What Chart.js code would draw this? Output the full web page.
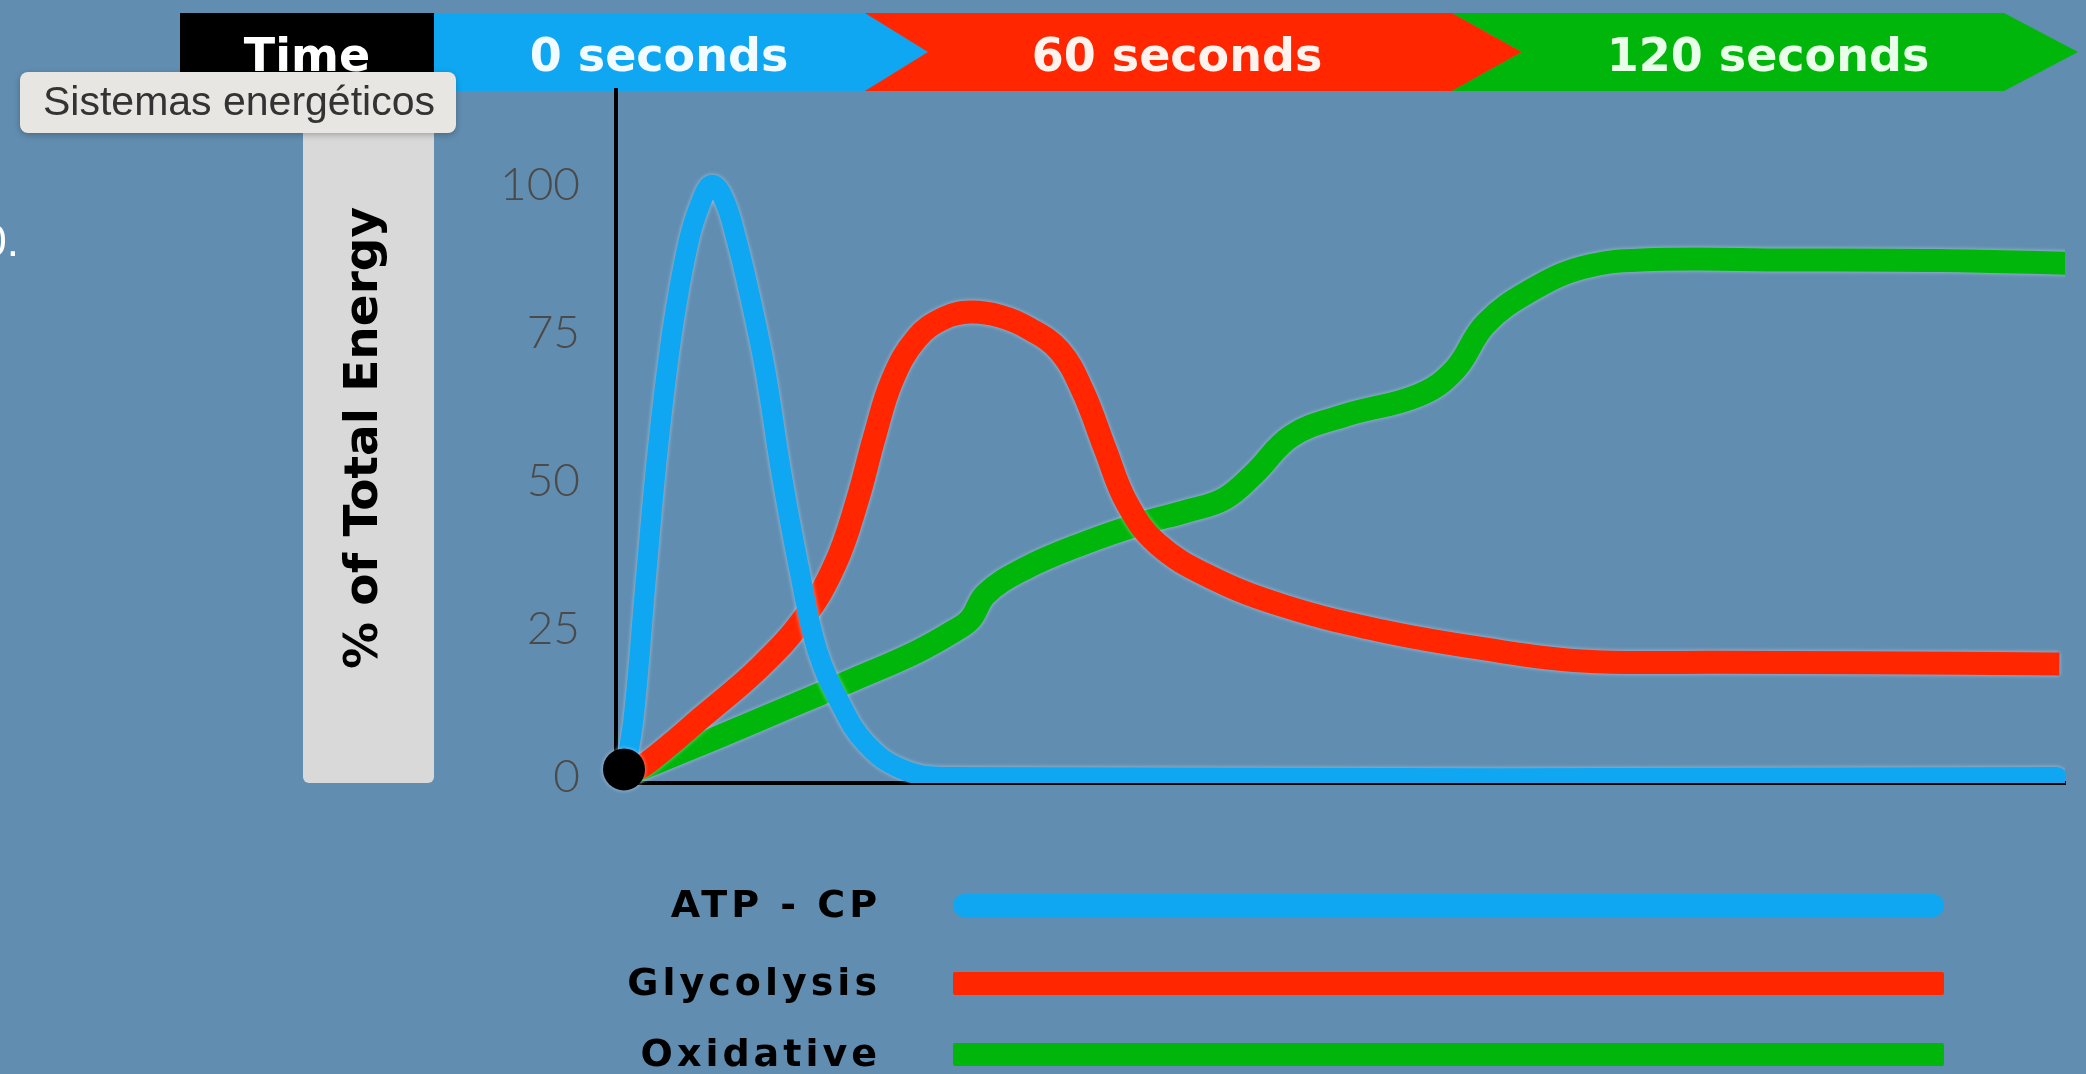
<!DOCTYPE html>
<html>
<head>
<meta charset="utf-8">
<script src="https://cdn.jsdelivr.net/npm/chart.js@4.4.1/dist/chart.umd.min.js"></script>
<style>
  html, body { margin: 0; padding: 0; background: #618db0; overflow: hidden; }
  canvas { display: block; }
</style>
</head>
<body>
<canvas id="energy-chart" width="2086" height="1074"></canvas>
<script>
// values (time in s, % of total energy)
const atpTime   = [0, 1.2, 2.7, 4.2, 6, 8, 9.6, 11, 12.5, 14, 15.6, 17.6, 19.7, 21.9, 24.1, 27, 30.2, 34.6, 40, 179];
const atpValues = [0, 10, 33, 55, 75, 90, 97, 100, 97.5, 91, 82, 69, 51, 35, 21.6, 12.5, 5.7, 1.4, 0, 0];

const glyTime   = [0, 3.2, 9.9, 17, 22.5, 26.4, 29.1, 31.3, 33.5, 36.5, 40, 43.3, 47, 50.5, 54.4, 57.3, 60.1, 62.8, 66.6, 73.2, 82.4, 94.6, 106.7, 119.7, 136.5, 155, 179.3];
const glyValues = [0, 2.7, 10.3, 18.6, 26.9, 36, 46.5, 57.5, 67, 74, 77.5, 78.5, 77.8, 75.8, 72, 65.2, 55.4, 46.3, 39.4, 33.8, 28.9, 24.7, 21.8, 19.6, 19.4, 19.3, 19.1];

const oxiTime   = [0, 3.2, 11.8, 20.4, 29.1, 36.5, 41.4, 43.3, 45.2, 49.9, 57.3, 64.8, 70.3, 75, 78.7, 83.4, 89.9, 99.3, 103.8, 107.6, 113.2, 119.7, 127.1, 145.8, 164.4, 182];
const oxiValues = [0, 2, 6.8, 11.7, 16.7, 21.1, 24.8, 26.7, 30.9, 35.1, 39.4, 42.9, 44.9, 47, 51.2, 57.6, 61, 64.5, 68.8, 76.5, 82.1, 86, 87.3, 87.3, 87.2, 86.7];

const seriesNames = ['ATP - CP', 'Glycolysis', 'Oxidative'];
const yTicks = [0, 25, 50, 75, 100];
const timeLabels = ['0 seconds', '60 seconds', '120 seconds'];

const BLUE = '#0fa7f2', RED = '#ff2600', GREEN = '#00b60a';

function pts(xs, ys) {
    return xs.map((x, i) => ({x: x, y: ys[i]}));
}

// header ribbon, axis title box, tooltip-like label
const decorations = {
    id: 'decorations',
    beforeDraw(chart) {
        const c = chart.ctx;
        c.save();
        // header
        c.fillStyle = '#000';
        c.fillRect(180, 13, 256, 78);
        const shape = (col, p) => {
            c.fillStyle = col;
            c.beginPath();
            c.moveTo(p[0][0], p[0][1]);
            for (let i = 1; i < p.length; i++) c.lineTo(p[i][0], p[i][1]);
            c.closePath();
            c.fill();
        };
        shape(BLUE, [[434, 13], [865, 13], [928, 52], [865, 91], [434, 91]]);
        shape(RED, [[865, 13], [1452, 13], [1522, 52], [1452, 91], [865, 91], [928, 52]]);
        shape(GREEN, [[1452, 13], [2004, 13], [2078, 52], [2004, 91], [1452, 91], [1522, 52]]);
        c.font = 'bold 46px "DejaVu Sans"';
        c.textAlign = 'center';
        c.textBaseline = 'alphabetic';
        c.fillStyle = '#fff';
        c.fillText('Time', 307, 71);
        c.fillStyle = '#f2fbff';
        c.fillText(timeLabels[0], 659, 71);
        c.fillStyle = '#fff3ee';
        c.fillText(timeLabels[1], 1177, 71);
        c.fillStyle = '#eaffea';
        c.fillText(timeLabels[2], 1768, 71);

        // stray fragment at left edge
        c.font = '44px "Liberation Sans"';
        c.textAlign = 'right';
        c.fillStyle = '#fff';
        c.fillText('0.', 19, 256);

        // y title box
        c.fillStyle = '#d9d9d9';
        c.beginPath();
        c.roundRect(303, 120, 131, 663, 6);
        c.fill();
        c.save();
        c.translate(377, 438);
        c.rotate(-Math.PI / 2);
        c.font = 'bold 47px "DejaVu Sans"';
        c.textAlign = 'center';
        c.fillStyle = '#000';
        c.fillText('% of Total Energy', 0, 0);
        c.restore();

        // tooltip-like box
        c.shadowColor = 'rgba(0,0,0,0.25)';
        c.shadowBlur = 6;
        c.shadowOffsetY = 2;
        c.fillStyle = '#e8e6e3';
        c.beginPath();
        c.roundRect(20, 72, 436, 61, 8);
        c.fill();
        c.shadowColor = 'transparent';
        c.font = '41px "Liberation Sans"';
        c.textAlign = 'left';
        c.textBaseline = 'middle';
        c.fillStyle = '#333';
        c.fillText('Sistemas energéticos', 43, 104);
        c.restore();
    },
    beforeDatasetsDraw(chart) {
        // light halo round the thick curves
        const c = chart.ctx;
        c.save();
        c.shadowColor = 'rgba(225,240,255,0.55)';
        c.shadowBlur = 4;
    },
    afterDatasetsDraw(chart) {
        chart.ctx.restore();
    },
    afterDraw(chart) {
        // legend: name on the left, long bar in the series colour
        const c = chart.ctx;
        const rows = [905, 983, 1054];
        c.save();
        c.font = 'bold 38px "DejaVu Sans"';
        c.letterSpacing = '4px';
        c.textAlign = 'right';
        c.textBaseline = 'middle';
        chart.data.datasets.slice(1).forEach((ds, i) => {
            c.fillStyle = '#000';
            c.fillText(ds.label, 881, rows[i] + 2);
            c.fillStyle = ds.borderColor;
            c.beginPath();
            c.roundRect(953, rows[i] - 11, 991, 23, i === 0 ? 11 : 2);
            c.fill();
        });
        c.restore();
    }
};

new Chart(document.getElementById('energy-chart'), {
    type: 'line',
    data: {
        datasets: [
            {
                label: 'origin',
                data: [{x: 0, y: 1.3}],
                showLine: false,
                pointRadius: 21,
                pointBackgroundColor: '#000',
                pointBorderWidth: 0,
                clip: false,
                order: -1
            },
            {
                label: seriesNames[0],
                data: pts(atpTime, atpValues),
                borderColor: BLUE,
                borderWidth: 20,
                borderCapStyle: 'round',
                borderJoinStyle: 'round',
                tension: 0.4,
                pointRadius: 0
            },
            {
                label: seriesNames[1],
                data: pts(glyTime, glyValues),
                borderColor: RED,
                borderWidth: 23,
                borderCapStyle: 'butt',
                borderJoinStyle: 'round',
                tension: 0.4,
                pointRadius: 0
            },
            {
                label: seriesNames[2],
                data: pts(oxiTime, oxiValues),
                borderColor: GREEN,
                borderWidth: 23,
                borderJoinStyle: 'round',
                tension: 0.4,
                pointRadius: 0
            }
        ]
    },
    options: {
        responsive: false,
        animation: false,
        layout: { padding: { top: 90, bottom: 291, left: 0, right: 0 } },
        plugins: { legend: { display: false }, tooltip: { enabled: false } },
        scales: {
            x: {
                type: 'linear',
                min: -1,
                max: 180,
                grid: { display: false, drawTicks: false },
                border: { display: true, color: '#000', width: 4 },
                ticks: { display: false },
                afterFit(scale) { scale.height = 0; }
            },
            y: {
                min: -1,
                max: 116,
                grid: { display: false, drawTicks: false },
                border: { display: true, color: '#000', width: 4 },
                afterBuildTicks(scale) {
                    scale.ticks = yTicks.map(v => ({value: v}));
                },
                afterFit(scale) { scale.width = 616; },
                ticks: {
                    padding: 36,
                    color: '#4a4a4a',
                    font: { family: 'Lato', weight: 300, size: 46 }
                }
            }
        }
    },
    plugins: [decorations]
});
</script>
</body>
</html>
